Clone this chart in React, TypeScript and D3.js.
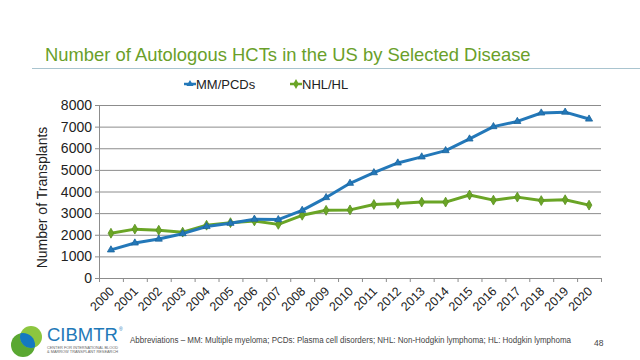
import React from 'react';
import * as d3 from 'd3';

const years = ['2000', '2001', '2002', '2003', '2004', '2005', '2006', '2007', '2008', '2009', '2010',
  '2011', '2012', '2013', '2014', '2015', '2016', '2017', '2018', '2019', '2020'];
const mmPcds = [1300, 1620, 1800, 2050, 2380, 2530, 2720, 2700, 3130, 3720, 4380,
  4870, 5320, 5600, 5890, 6430, 7000, 7240, 7630, 7670, 7350];
const nhlHl = [2070, 2260, 2210, 2120, 2440, 2560, 2640, 2480, 2900, 3130, 3150,
  3400, 3440, 3510, 3510, 3840, 3600, 3740, 3580, 3620, 3370];
const yTicks = [0, 1000, 2000, 3000, 4000, 5000, 6000, 7000, 8000];

const BLUE = '#2378b9';
const GREEN = '#6aa526';
const font = 'Liberation Sans, Arial, sans-serif';

const App: React.FC = () => {
  const width = 640;
  const height = 360;
  const left = 99, right = 601, top = 105, bottom = 278;

  const x = d3.scaleBand<string>().domain(years).range([left, right]);
  const y = d3.scaleLinear().domain([0, 8000]).range([bottom, top]);
  const cx = (d: string) => (x(d) as number) + x.bandwidth() / 2;

  const line = d3.line<number>()
    .x((_, i) => cx(years[i]))
    .y(d => y(d));

  const tri = d3.symbol().type(d3.symbolTriangle).size(22)();
  const dia = d3.symbol().type(d3.symbolDiamond).size(28)();

  return (
    <svg width={width} height={height} style={{ position: 'absolute', left: 0, top: 0, background: 'white' }}
      fontFamily={font}>
      <defs>
        <clipPath id="logoClip">
          <circle cx={31} cy={337} r={11} />
        </clipPath>
      </defs>

      {/* title */}
      <text x={45} y={61} fontSize={18.4} fill="#6a9f2a">Number of Autologous HCTs in the US by Selected Disease</text>
      <line x1={32} x2={640} y1={68.5} y2={68.5} stroke="#a9c4cf" strokeWidth={1} />

      {/* legend */}
      <g fontSize={13} fill="#222">
        <line x1={184} x2={196} y1={84} y2={84} stroke={BLUE} strokeWidth={2.5} />
        <path d={tri ?? ''} transform="translate(190,84)" fill={BLUE} />
        <text x={196} y={89}>MM/PCDs</text>
        <line x1={290} x2={302} y1={84} y2={84} stroke={GREEN} strokeWidth={2.5} />
        <path d={dia ?? ''} transform="translate(296,84)" fill={GREEN} />
        <text x={302} y={89}>NHL/HL</text>
      </g>

      {/* grid + y ticks */}
      {yTicks.map(t => (
        <g key={t}>
          {t > 0 && <line x1={left} x2={right} y1={y(t) + 0.5} y2={y(t) + 0.5} stroke="#8c8c8c" strokeWidth={1} />}
          <line x1={left - 4} x2={left} y1={y(t) + 0.5} y2={y(t) + 0.5} stroke="#8c8c8c" />
          <text x={left - 7} y={y(t) + 5} textAnchor="end" fontSize={14} fill="#222">{t}</text>
        </g>
      ))}
      <line x1={left + 0.5} x2={left + 0.5} y1={top} y2={bottom} stroke="#8c8c8c" />
      <line x1={left} x2={right} y1={bottom + 0.5} y2={bottom + 0.5} stroke="#8c8c8c" />
      {years.map(d => (
        <line key={'t' + d} x1={(x(d) as number) + 0.5} x2={(x(d) as number) + 0.5} y1={bottom} y2={bottom + 4} stroke="#8c8c8c" />
      ))}
      <line x1={right + 0.5} x2={right + 0.5} y1={bottom} y2={bottom + 4} stroke="#8c8c8c" />

      {/* x labels */}
      {years.map(d => (
        <text key={'l' + d} transform={`translate(${cx(d) + 4},${bottom + 14}) rotate(-45)`}
          textAnchor="end" fontSize={12.5} fill="#222">{d}</text>
      ))}

      {/* y label */}
      <text transform={`translate(47,${(top + bottom) / 2 + 6}) rotate(-90)`} textAnchor="middle" fontSize={14} fill="#222">
        Number of Transplants
      </text>

      {/* series */}
      <path d={line(nhlHl) ?? ''} fill="none" stroke={GREEN} strokeWidth={3} strokeLinejoin="round" />
      {nhlHl.map((v, i) => (
        <path key={'n' + i} d={dia ?? ''} transform={`translate(${cx(years[i])},${y(v)})`} fill={GREEN} stroke="#5b8f20" strokeWidth={0.8} />
      ))}
      <path d={line(mmPcds) ?? ''} fill="none" stroke={BLUE} strokeWidth={3} strokeLinejoin="round" />
      {mmPcds.map((v, i) => (
        <path key={'m' + i} d={tri ?? ''} transform={`translate(${cx(years[i])},${y(v)})`} fill={BLUE} stroke="#1d659c" strokeWidth={0.8} />
      ))}

      {/* footer logo */}
      <g>
        <circle cx={23} cy={345} r={12} fill="#5aa832" />
        <circle cx={31} cy={337} r={11} fill="#8cc63f" />
        <circle cx={23} cy={345} r={12} fill="#1479c0" clipPath="url(#logoClip)" />
        <text x={47} y={341} fontSize={18.5} fill="#1f79b8" textLength={71} lengthAdjust="spacingAndGlyphs">CIBMTR</text>
        <text x={119} y={331} fontSize={5} fill="#1f79b8">®</text>
        <text x={47} y={348.5} fontSize={3.3} fill="#666" textLength={71} lengthAdjust="spacingAndGlyphs">CENTER FOR INTERNATIONAL BLOOD</text>
        <text x={47} y={352.5} fontSize={3.3} fill="#666" textLength={71} lengthAdjust="spacingAndGlyphs">&amp; MARROW TRANSPLANT RESEARCH</text>
      </g>
      <text x={130} y={343} fontSize={8.3} fill="#444" textLength={441} lengthAdjust="spacingAndGlyphs">
        Abbreviations – MM: Multiple myeloma; PCDs: Plasma cell disorders; NHL: Non-Hodgkin lymphoma; HL: Hodgkin lymphoma
      </text>
      <text x={594} y={346} fontSize={8.5} fill="#444">48</text>
    </svg>
  );
};

export default App;
